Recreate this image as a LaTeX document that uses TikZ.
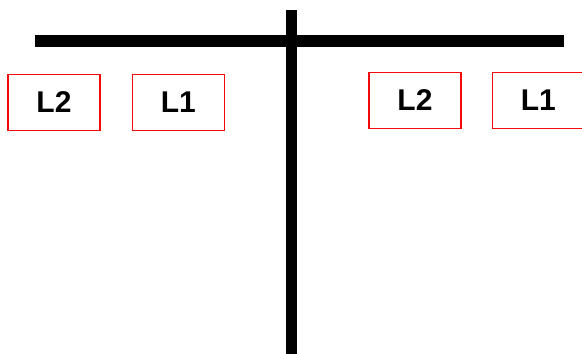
\documentclass[tikz,border=0pt]{standalone}
\usepackage{fontspec}
\setmainfont{Liberation Sans}
\definecolor{boxred}{RGB}{245,10,10}
\usetikzlibrary{positioning}

\begin{document}
\begin{tikzpicture}[x=1pt, y=-1pt,
    lbox/.style={draw=boxred, line width=1.4pt, minimum width=92pt,
                 minimum height=56pt, inner sep=0pt, font=\fontsize{30}{32}\selectfont\bfseries},
    bar/.style={line width=11.5pt}]
    \useasboundingbox (0,0) rectangle (582,354);
    % cross
    \coordinate (hl) at (35,41);
    \coordinate (hr) at (564,41);
    \coordinate (vt) at (291.5,10);
    \coordinate (vb) at (291.5,360);
    \draw[bar] (hl) -- (hr);
    \draw[bar] (vt) -- (vb);
    % left side
    \node[lbox] (l2left) at (54,102.5) {L2};
    \node[lbox, right=31pt of l2left] (l1left) {L1};
    % right side
    \node[lbox] (l2right) at (415,100.5) {L2};
    \node[lbox, right=30pt of l2right] (l1right) {L1};
\end{tikzpicture}
\end{document}
